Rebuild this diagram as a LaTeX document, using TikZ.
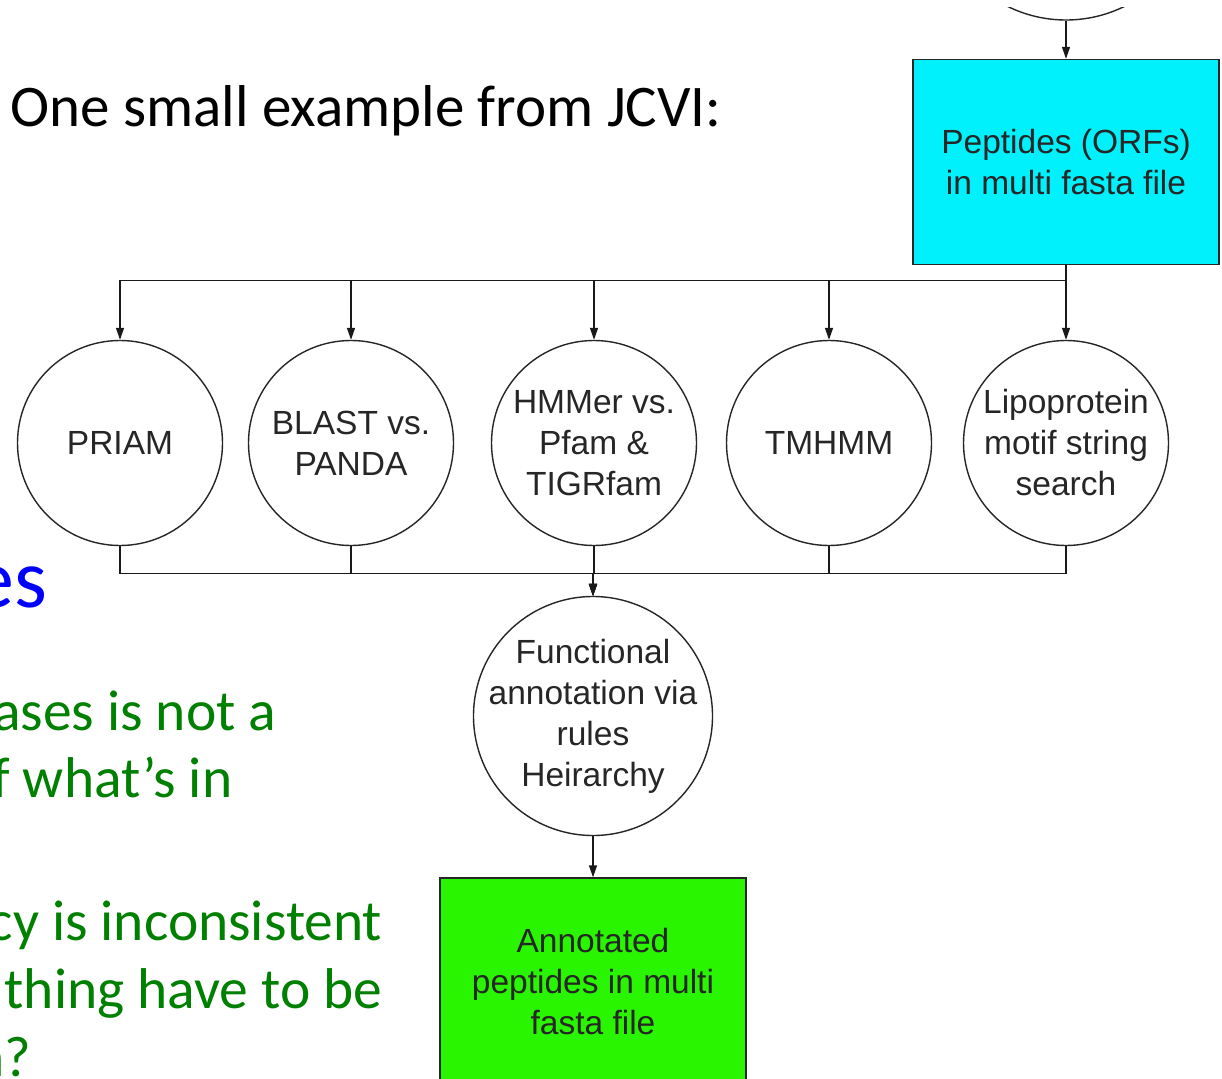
\documentclass[tikz,border=0pt]{standalone}
\usepackage{fontspec}
\setmainfont{Carlito}
\newfontfamily\chartfont{Liberation Sans}
\usetikzlibrary{shapes, arrows.meta, positioning}

\definecolor{orfcyan}{RGB}{0,240,252}
\definecolor{annotgreen}{RGB}{42,245,0}
\definecolor{notegreen}{RGB}{0,128,0}
\definecolor{titleblue}{RGB}{0,0,255}
\newcommand{\chartsize}{\chartfont\fontsize{33.5}{41}\selectfont}

\begin{document}
\begin{tikzpicture}[
    x=1pt, y=-1pt,
    line width=1.4pt
  ]

  % Styles
  \tikzstyle{process}=[draw=black!85, circle, minimum size=205pt, inner sep=0pt, align=center, font=\chartsize, text=black!85]
  \tikzstyle{datafile}=[draw=black!85, shape=rectangle, minimum width=306pt, minimum height=205pt, align=center, font=\chartsize, text=black!85]
  \tikzstyle{flow}=[-{Triangle[length=12pt, width=8pt]}, black!90]
  \tikzstyle{slide}=[inner sep=0pt, anchor=base east, font=\fontsize{57.5}{70}\selectfont, text=notegreen]

  % Page
  \useasboundingbox (0,0) rectangle (1222,1078);
  \fill[white] (0,0) rectangle (1222,1078);
  \clip (0,0) rectangle (1222,1078);

  % Slide text (cut off at the left)
  \node[slide, anchor=base west, text=black, font=\fontsize{59}{70}\selectfont] (intro) at (10,127) {One small example from JCVI:};
  \node[slide, text=titleblue, font=\fontsize{84}{100}\selectfont] (heading) at (48,607) {es};
  \node[slide] (noteA) at (277,730) {ases is not a};
  \node[slide] (noteB) at (233,797) {f what’s in};
  \node[slide] (noteC) at (383,940) {cy is inconsistent};
  \node[slide] (noteD) at (383,1008) {thing have to be};
  \node[slide] (noteE) at (32,1076) {n?};

  % Input (only its lower edge shows)
  \begin{scope}
    \clip (900,8) rectangle (1222,100);
    \node[process, minimum size=264pt] (genecall) at (1066,-112) {};
  \end{scope}
  \node[datafile, fill=orfcyan] (peptides) at (1066,162) {Peptides (ORFs)\\in multi fasta file};

  % Searches
  \node[process] (priam) at (120,443) {PRIAM};
  \node[process] (blast) at (351,443) {BLAST vs.\\PANDA};
  \node[process] (hmmer) at (594,443) {HMMer vs.\\Pfam \&\\TIGRfam};
  \node[process] (tmhmm) at (829,443) {TMHMM};
  \node[process] (lipo) at (1066,443) {Lipoprotein\\motif string\\search};

  % Rules and output
  \node[process, minimum size=239pt, inner sep=-12pt] (rules) at (593,716) {Functional\\annotation via\\rules\\Heirarchy};
  \node[datafile, fill=annotgreen, minimum height=208pt] (annotated) at (593,982) {Annotated\\peptides in multi\\fasta file};

  % Arrows
  \draw[flow] (genecall) -- (peptides);
  \foreach \n in {priam, blast, hmmer, tmhmm, lipo}
    \draw[flow] (peptides.south) -- ++(0,15) -| (\n.north);
  \foreach \n in {priam, blast, hmmer, tmhmm, lipo}
    \draw[flow] (\n.south) -- ++(0,27) -| (rules.north);
  \draw[flow] (rules) -- (annotated);

\end{tikzpicture}
\end{document}
